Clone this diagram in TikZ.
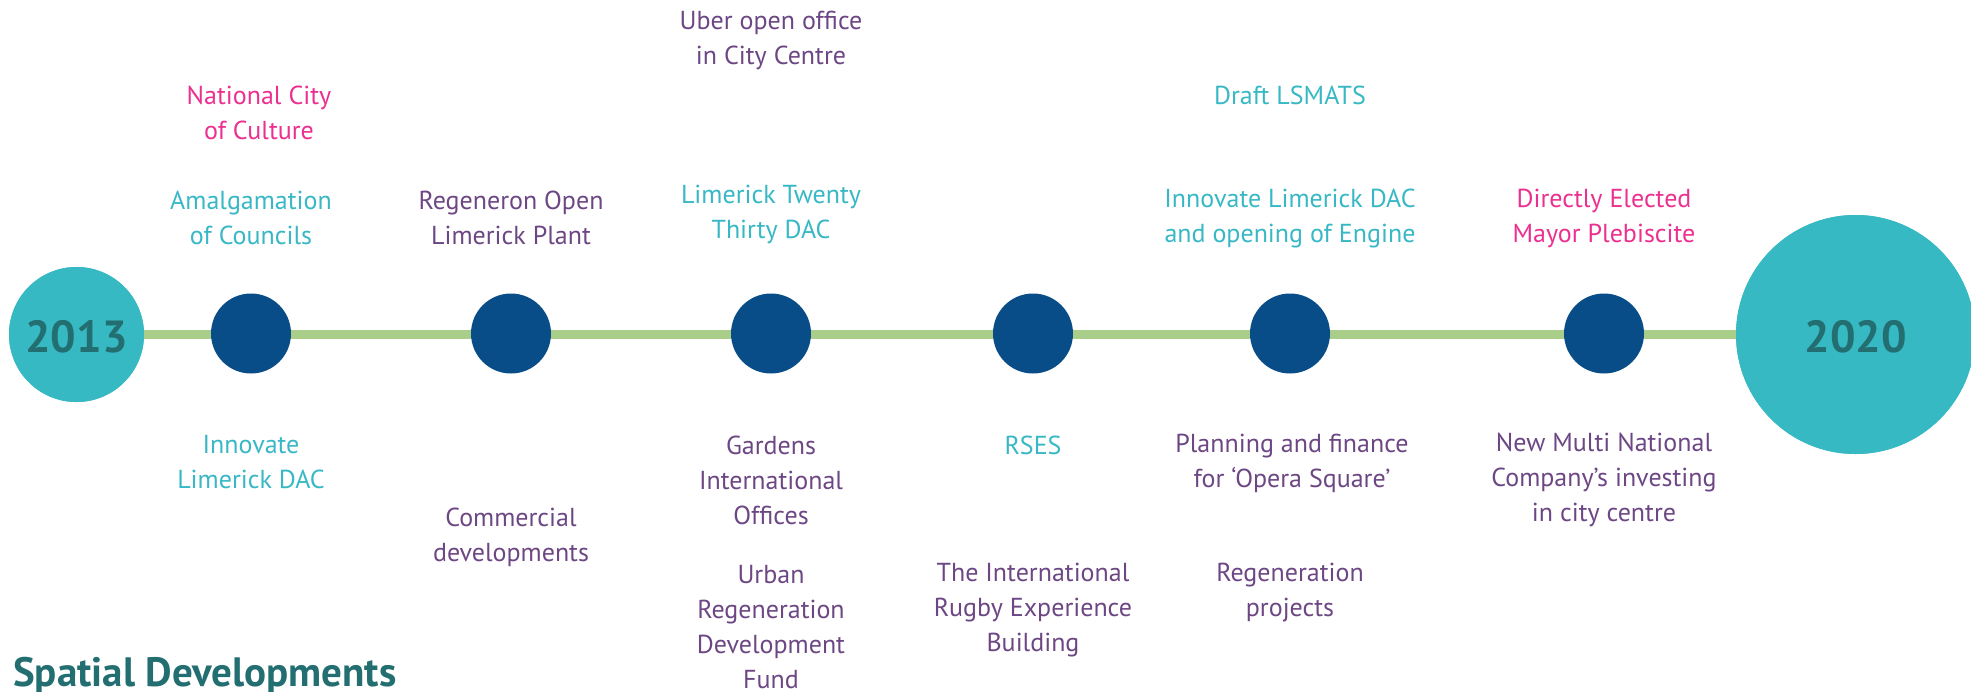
\documentclass[tikz,border=0pt]{standalone}
\usepackage{fontspec}
\setmainfont{PT Sans}
\definecolor{tealc}{HTML}{37B9C3}
\definecolor{darkb}{HTML}{084D88}
\definecolor{greenl}{HTML}{A8CE8A}
\definecolor{yeart}{HTML}{226E71}
\definecolor{cyant}{HTML}{38B8C5}
\definecolor{pinkt}{HTML}{EC3090}
\definecolor{purpt}{HTML}{6D4784}
\begin{document}
\begin{tikzpicture}[x=1pt,y=-1pt,
  yearc/.style={circle,fill=tealc,inner sep=0pt,minimum size=#1},
  dotc/.style={circle,fill=darkb,inner sep=0pt,minimum size=80pt},
  yeartxt/.style={text=yeart,font=\fontsize{45}{50}\selectfont\bfseries,inner sep=0pt},
  lbl/.style={align=center,inner sep=0pt,font=\fontsize{26}{35}\selectfont},
  cy/.style={lbl,text=cyant},
  pk/.style={lbl,text=pinkt},
  pu/.style={lbl,text=purpt}]
\useasboundingbox (0,0) rectangle (1971,691);
% circles
\node[yearc=135pt] (y13) at (76.5,334.5) {};
\node[yearc=239pt] (y20) at (1855.5,334.5) {};
\draw[greenl,line width=9pt] (y13.east) -- (y20.west);
\node[yearc=135pt] at (y13) {};
\node[yearc=239pt] at (y20) {};
\node[yeartxt] (t13) at (76.5,337) {2013};
\node[yeartxt] (t20) at (1855.5,337) {2020};
\node[dotc] (d1) at (251,333.5) {};
\node[dotc] (d2) at (511,333.5) {};
\node[dotc] (d3) at (771,333.5) {};
\node[dotc] (d4) at (1033,333.5) {};
\node[dotc] (d5) at (1290,333.5) {};
\node[dotc] (d6) at (1604,333.5) {};
% top labels
\node[pk] (a1) at (259,112.5) {National City\\of Culture};
\node[cy] (a2) at (251,218) {Amalgamation\\of Councils};
\node[pu] (b1) at (511,218) {Regeneron Open\\Limerick Plant};
\node[pu] (c1) at (771,40.5) {Uber open office\\in City Centre};
\node[cy] (c2) at (771,214) {Limerick Twenty\\Thirty DAC};
\node[cy] (e1) at (1290,95) {Draft LSMATS};
\node[cy] (e2) at (1290,218) {Innovate Limerick DAC\\and opening of Engine};
\node[pk] (f1) at (1604,218) {Directly Elected\\Mayor Plebiscite};
% bottom labels
\node[cy] (a3) at (251,462.5) {Innovate\\Limerick DAC};
\node[pu] (b2) at (511,537.5) {Commercial\\developments};
\node[pu] (c3) at (771,480) {Gardens\\International\\Offices};
\node[pu] (c4) at (771,627.5) {Urban\\Regeneration\\Development\\Fund};
\node[cy] (d7) at (1033,445) {RSES};
\node[pu] (d8) at (1033,610) {The International\\Rugby Experience\\Building};
\node[pu] (e3) at (1292,463.5) {Planning and finance\\for `Opera Square'};
\node[pu] (e4) at (1290,593) {Regeneration\\projects};
\node[pu] (f2) at (1604,480) {New Multi National\\Company's investing\\in city centre};
\node[anchor=base west,inner sep=0pt,text=yeart,font=\fontsize{41}{45}\selectfont\bfseries] (title) at (13,686) {Spatial Developments};
\end{tikzpicture}
\end{document}
